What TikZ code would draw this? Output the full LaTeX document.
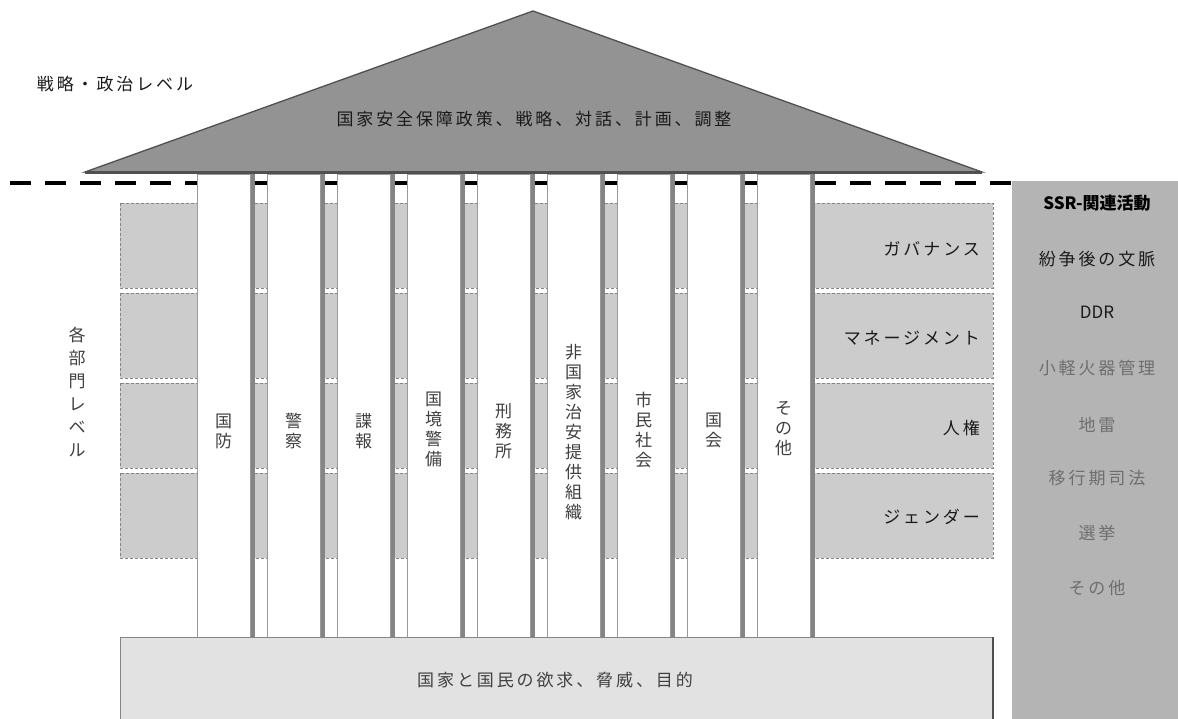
\documentclass[tikz,border=0pt]{standalone}
\usepackage{fontspec}
\newfontfamily\jp[LetterSpace=17]{Noto Sans CJK JP}
\newfontfamily\jpv{Noto Sans CJK JP}
\definecolor{trifill}{HTML}{939393}
\definecolor{triline}{HTML}{505050}
\definecolor{boxgray}{HTML}{CCCCCC}
\definecolor{dashgray}{HTML}{858585}
\definecolor{pillarline}{HTML}{9A9A9A}
\definecolor{shadowgray}{HTML}{858585}
\definecolor{basefill}{HTML}{E2E2E2}
\definecolor{colfill}{HTML}{B4B4B4}
\definecolor{txtdark}{HTML}{1A1A1A}
\definecolor{txtmid}{HTML}{404040}
\definecolor{txtlight}{HTML}{6E6E6E}
\tikzset{
  rowbox/.style={fill=boxgray, draw=dashgray, dash pattern=on 3pt off 2pt, line width=0.9pt},
  pillarbox/.style={fill=white, draw=pillarline, line width=0.9pt},
  vtext/.style={font=\jpv\fontsize{17}{20}\selectfont, align=center, inner sep=0pt},
  htext/.style={font=\jp\fontsize{17}{20}\selectfont, inner sep=0pt},
}
\begin{document}
\begin{tikzpicture}[x=1pt,y=-1pt]
\useasboundingbox (0,0) rectangle (1178,719);
% row boxes
\foreach \ya/\yb in {203/288, 293/378, 383/468, 473/558}{
  \draw[rowbox] (120,\ya) rectangle (197,\yb);
  \foreach \k in {0,...,7}{
    \draw[rowbox] ({251+70*\k},\ya) rectangle ({267+70*\k},\yb);
  }
  \draw[rowbox] (811,\ya) rectangle (993,\yb);
}
% dashed boundary line
\draw[line width=4.5pt, black, dash pattern=on 21pt off 14pt] (10,183) -- (1012,183);
% pillars
\foreach \k in {0,...,8}{
  \fill[shadowgray] ({250+70*\k},174) rectangle ({254.5+70*\k},637);
  \draw[pillarbox] ({197+70*\k},174) rectangle ({250+70*\k},637);
}
% base box
\draw[fill=basefill, draw=dashgray, line width=1pt] (120,637) rectangle (993,725);
\draw[triline, line width=1.5pt] (993,637) -- (993,725);
% right column
\fill[colfill] (1012,181) rectangle (1180,722);
% roof
\draw[fill=trifill, draw=triline, line width=1.3pt, line join=miter] (85,172) -- (533,11) -- (982,172) -- cycle;
\draw[triline, line width=3pt] (85,173) -- (982,173);

% texts
\node[htext, text=txtdark] (strat) at (115,84) {戦略・政治レベル};
\node[vtext, text=txtmid, font=\jpv\fontsize{17}{23}\selectfont] (sect) at (77,392) {各\\部\\門\\レ\\ベ\\ル};
\node[htext, text=txtdark] (roof) at (534,119) {国家安全保障政策、戦略、対話、計画、調整};

\node[vtext, text=txtmid] (p1) at (223.5,431) {国\\防};
\node[vtext, text=txtmid] (p2) at (293.5,431) {警\\察};
\node[vtext, text=txtmid] (p3) at (363.5,431) {諜\\報};
\node[vtext, text=txtmid] (p4) at (433.5,429) {国\\境\\警\\備};
\node[vtext, text=txtmid] (p5) at (503.5,431) {刑\\務\\所};
\node[vtext, text=txtmid] (p6) at (573.5,432) {非\\国\\家\\治\\安\\提\\供\\組\\織};
\node[vtext, text=txtmid] (p7) at (643.5,430) {市\\民\\社\\会};
\node[vtext, text=txtmid] (p8) at (713.5,430) {国\\会};
\node[vtext, text=txtmid] (p9) at (783.5,429) {そ\\の\\他};

\node[htext, text=txtdark, anchor=east] (g1) at (980,249) {ガバナンス};
\node[htext, text=txtdark, anchor=east] (g2) at (980,338) {マネージメント};
\node[htext, text=txtdark, anchor=east] (g3) at (980,428) {人権};
\node[htext, text=txtdark, anchor=east] (g4) at (980,517) {ジェンダー};

\node[htext, text=txtmid] (base) at (555,680) {国家と国民の欲求、脅威、目的};

\node[font=\jpv\bfseries\fontsize{17}{20}\selectfont, inner sep=0pt, text=black] (r1) at (1097,203) {SSR-関連活動};
\node[htext, text=txtdark] (r2) at (1097,259) {紛争後の文脈};
\node[font=\jpv\fontsize{17}{20}\selectfont, inner sep=0pt, text=txtdark] (r3) at (1097,312) {DDR};
\node[htext, text=txtlight] (r4) at (1097,368) {小軽火器管理};
\node[htext, text=txtlight] (r5) at (1097,425) {地雷};
\node[htext, text=txtlight] (r6) at (1097,478) {移行期司法};
\node[htext, text=txtlight] (r7) at (1097,533) {選挙};
\node[htext, text=txtlight] (r8) at (1097,588) {その他};
\end{tikzpicture}
\end{document}
